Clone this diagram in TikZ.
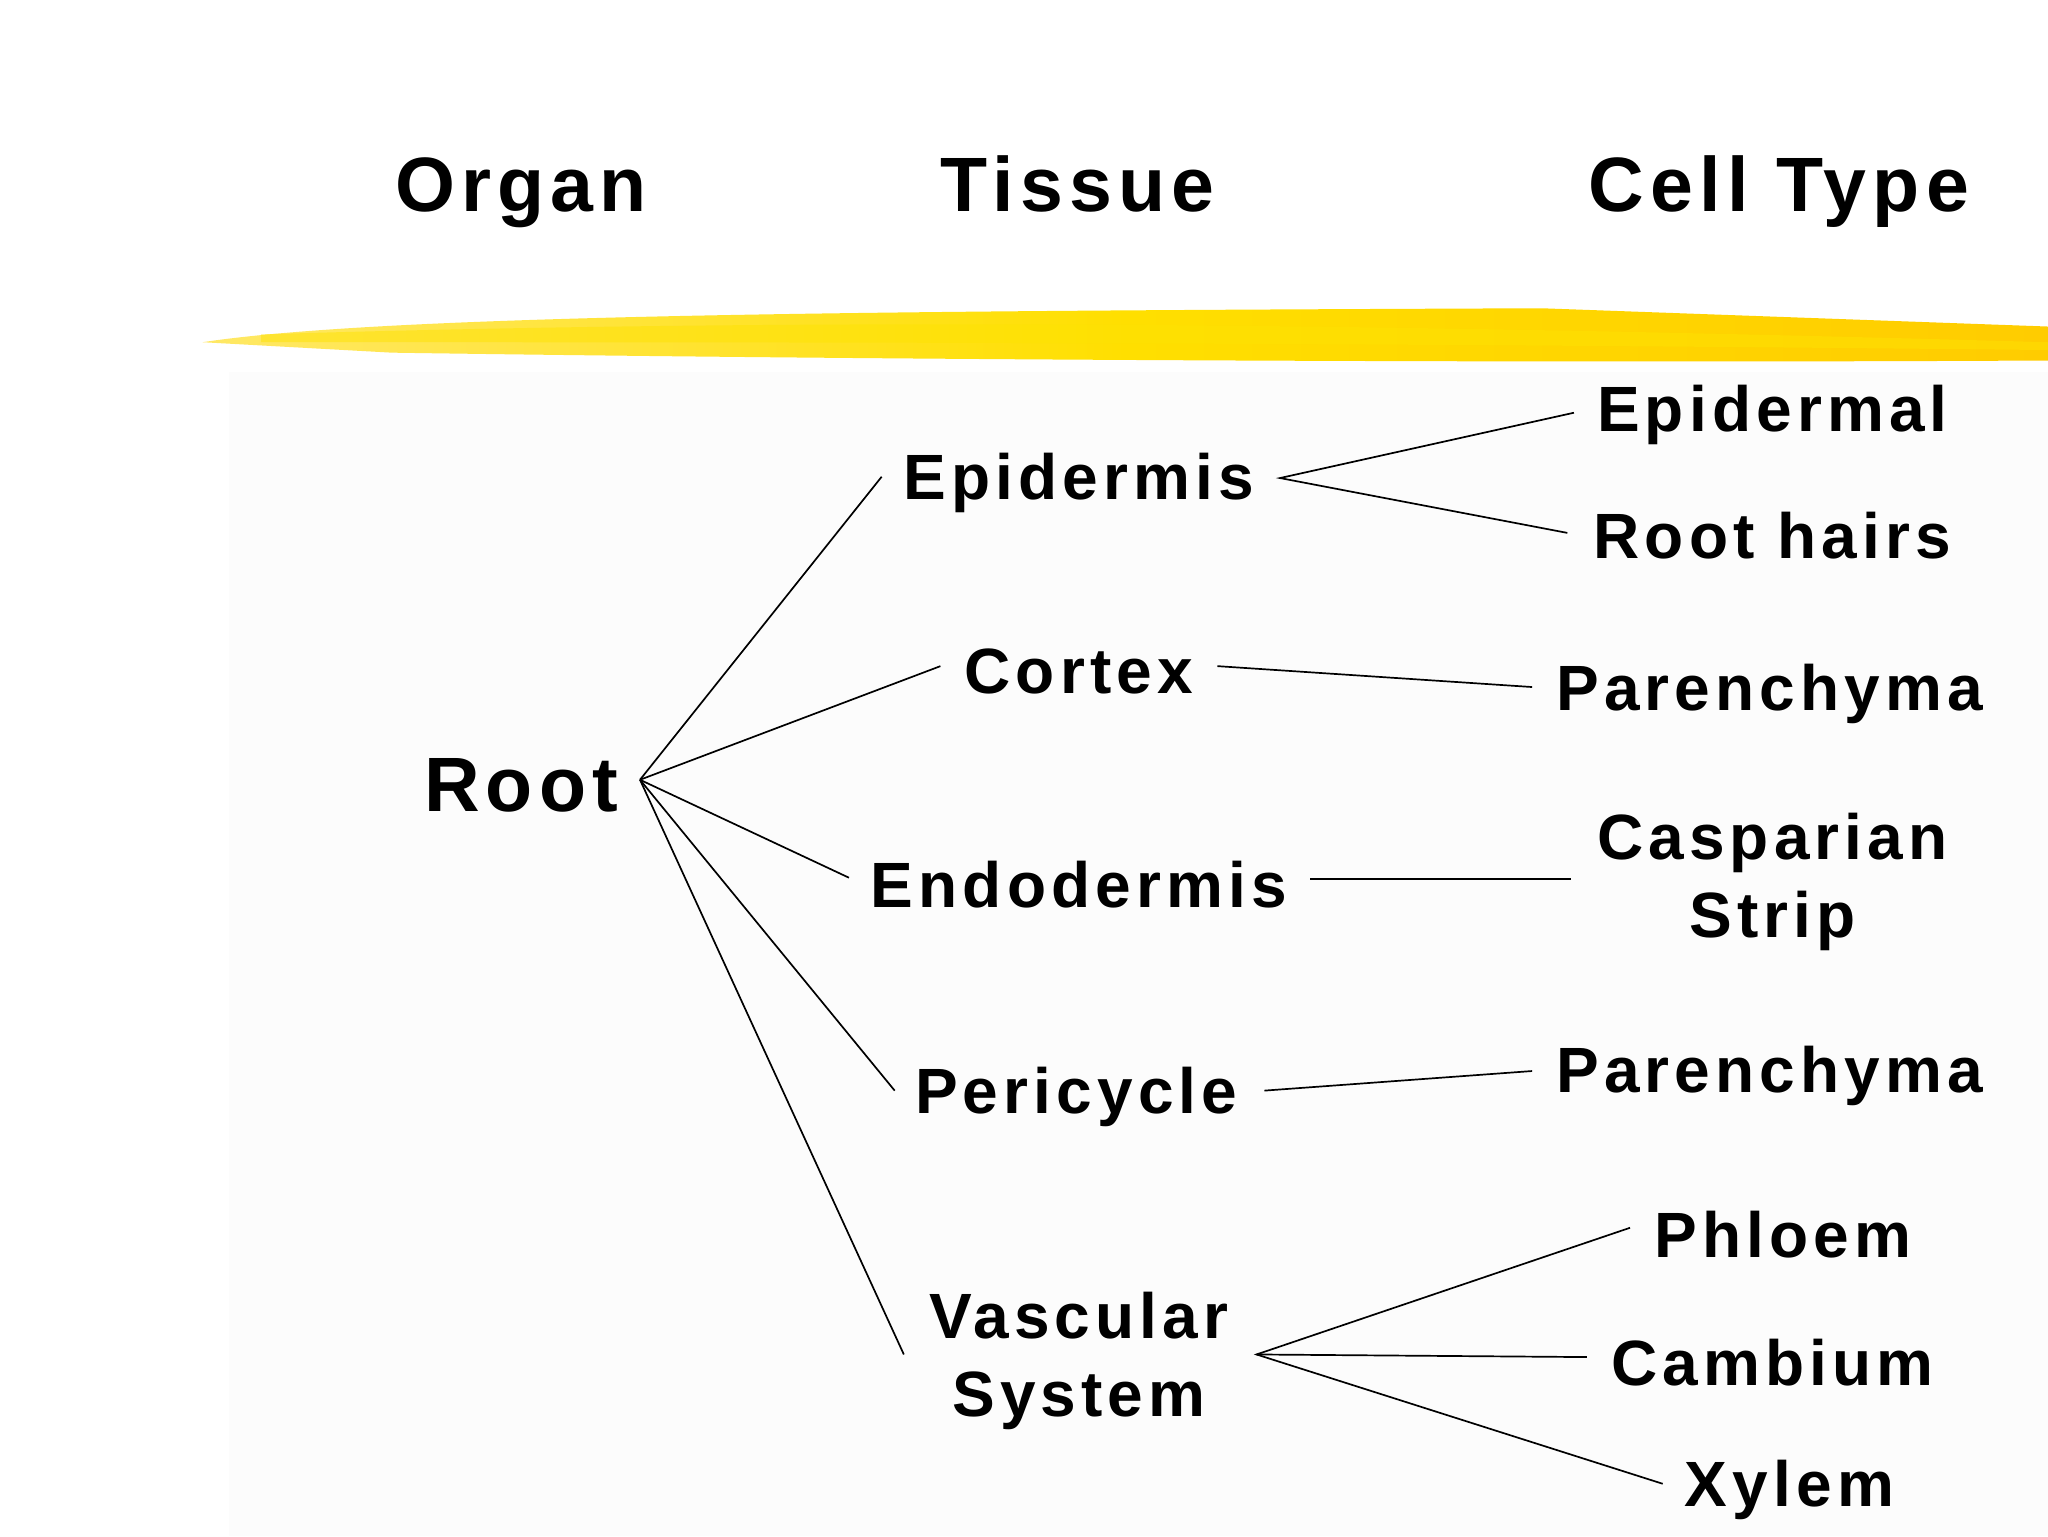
\documentclass[tikz,border=0pt]{standalone}
\usepackage{fontspec}
\setmainfont{Liberation Sans}[LetterSpace=8]
\begin{document}
\begin{tikzpicture}[x=1pt,y=-1pt,
  lab/.style={font=\fontsize{49}{60}\selectfont\bfseries,align=center,inner sep=0},
  hd/.style={font=\fontsize{59}{62}\selectfont\bfseries,inner sep=0,anchor=base},
  ln/.style={line width=1.3pt}]
\useasboundingbox (0,0) rectangle (1568,1176);
\fill[white] (0,0) rectangle (1568,1176);
\fill[fill=white!99!black] (175,285) rectangle (1568,1176);
% brush stroke
\shade[left color=yellow!70!orange!60!white, right color=yellow!60!orange, middle color=yellow!75!orange]
 (155,262) .. controls (300,240) and (700,238) .. (1180,236) -- (1568,250) -- (1568,276)
 .. controls (1200,278) and (700,276) .. (300,270) -- cycle;
\fill[yellow!85!orange, opacity=0.5] (200,256) .. controls (600,244) and (1000,246) .. (1568,262) -- (1568,268) .. controls (1000,262) and (600,262) .. (200,262) -- cycle;
% headers
\node[hd] (organ) at (399,162) {Organ};
\node[hd] (tissue) at (825,162) {Tissue};
\node[hd] (cell) at (1362,162) {Cell Type};
% nodes
\node[hd] (root) at (399,621) {Root};
\node[lab] (epi) at (826,370) {Epidermis};
\node[lab] (cor) at (826,514) {Cortex};
\node[lab] (endo) at (826,677) {Endodermis};
\node[lab] (peri) at (824,840) {Pericycle};
\node[lab] (vasc) at (826,1042) {Vascular\\System};
\node[lab] (epl) at (1357,318) {Epidermal};
\node[lab] (rh) at (1357,410) {Root hairs};
\node[lab] (par1) at (1355,531) {Parenchyma};
\node[lab] (cas) at (1357,675) {Casparian\\Strip};
\node[lab] (par2) at (1355,824) {Parenchyma};
\node[lab] (phl) at (1365,945) {Phloem};
\node[lab] (cam) at (1357,1043) {Cambium};
\node[lab] (xyl) at (1370,1141) {Xylem};
% anchor coordinates
\coordinate (r0) at (490,597);
\coordinate (t1) at (675,365); \coordinate (t2) at (720,510); \coordinate (t3) at (650,672);
\coordinate (t4) at (685,835); \coordinate (t5) at (692,1037);
\coordinate (e0) at (980,366); \coordinate (e1) at (1205,316); \coordinate (e2) at (1200,408);
\coordinate (c0) at (932,510); \coordinate (c1) at (1173,526);
\coordinate (n0) at (1003,673); \coordinate (n1) at (1203,673);
\coordinate (p0) at (968,835); \coordinate (p1) at (1173,820);
\coordinate (v0) at (962,1037); \coordinate (v1) at (1248,940); \coordinate (v2) at (1215,1039); \coordinate (v3) at (1273,1136);
\foreach \t in {t1,t2,t3,t4,t5} \draw[ln] (r0) -- (\t);
\draw[ln] (e1) -- (e0) -- (e2);
\draw[ln] (c0) -- (c1);
\draw[ln] (n0) -- (n1);
\draw[ln] (p0) -- (p1);
\draw[ln] (v1) -- (v0) -- (v3); \draw[ln] (v0) -- (v2);
\end{tikzpicture}
\end{document}
